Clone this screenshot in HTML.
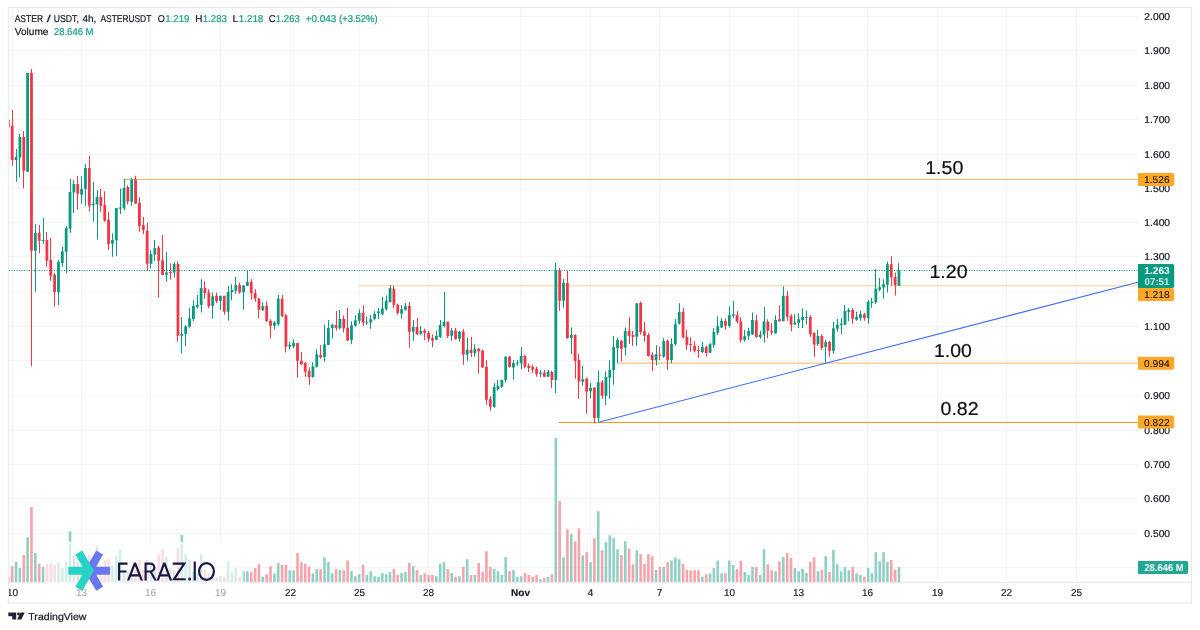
<!DOCTYPE html><html><head><meta charset="utf-8"><title>ASTER / USDT</title>
<style>html,body{margin:0;padding:0;background:#fff;}body{width:1200px;height:630px;overflow:hidden;font-family:"Liberation Sans",sans-serif;}svg{display:block;filter:contrast(1);}text{font-family:"Liberation Sans",sans-serif;text-rendering:geometricPrecision;}</style></head><body>
<svg width="1200" height="630" viewBox="0 0 1200 630">
<rect width="1200" height="630" fill="#fff"/>
<defs><clipPath id="cp"><rect x="9.1" y="8" width="1128.9" height="574"/></clipPath><clipPath id="cp2"><rect x="9" y="582" width="1182" height="21"/></clipPath></defs>
<g stroke="#2a2e39" stroke-opacity="0.055" stroke-width="1">
<line x1="8.8" x2="1138" y1="16.50" y2="16.50"/>
<line x1="8.8" x2="1138" y1="50.50" y2="50.50"/>
<line x1="8.8" x2="1138" y1="85.50" y2="85.50"/>
<line x1="8.8" x2="1138" y1="119.50" y2="119.50"/>
<line x1="8.8" x2="1138" y1="154.50" y2="154.50"/>
<line x1="8.8" x2="1138" y1="188.50" y2="188.50"/>
<line x1="8.8" x2="1138" y1="222.50" y2="222.50"/>
<line x1="8.8" x2="1138" y1="256.50" y2="256.50"/>
<line x1="8.8" x2="1138" y1="292.50" y2="292.50"/>
<line x1="8.8" x2="1138" y1="326.50" y2="326.50"/>
<line x1="8.8" x2="1138" y1="360.50" y2="360.50"/>
<line x1="8.8" x2="1138" y1="395.50" y2="395.50"/>
<line x1="8.8" x2="1138" y1="430.50" y2="430.50"/>
<line x1="8.8" x2="1138" y1="464.50" y2="464.50"/>
<line x1="8.8" x2="1138" y1="498.50" y2="498.50"/>
<line x1="8.8" x2="1138" y1="533.50" y2="533.50"/>
<line x1="8.8" x2="1138" y1="567.50" y2="567.50"/>
<line x1="12.50" x2="12.50" y1="8" y2="582"/>
<line x1="81.50" x2="81.50" y1="8" y2="582"/>
<line x1="150.50" x2="150.50" y1="8" y2="582"/>
<line x1="220.50" x2="220.50" y1="8" y2="582"/>
<line x1="290.50" x2="290.50" y1="8" y2="582"/>
<line x1="359.50" x2="359.50" y1="8" y2="582"/>
<line x1="428.50" x2="428.50" y1="8" y2="582"/>
<line x1="520.50" x2="520.50" y1="8" y2="582"/>
<line x1="590.50" x2="590.50" y1="8" y2="582"/>
<line x1="659.50" x2="659.50" y1="8" y2="582"/>
<line x1="729.50" x2="729.50" y1="8" y2="582"/>
<line x1="798.50" x2="798.50" y1="8" y2="582"/>
<line x1="867.50" x2="867.50" y1="8" y2="582"/>
<line x1="937.50" x2="937.50" y1="8" y2="582"/>
<line x1="1006.50" x2="1006.50" y1="8" y2="582"/>
<line x1="1076.50" x2="1076.50" y1="8" y2="582"/>
</g>
<g clip-path="url(#cp)">
<rect x="7.04" y="576.3" width="2.6" height="5.7" fill="#f8a3aa"/>
<rect x="10.90" y="566.2" width="2.6" height="15.8" fill="#f8a3aa"/>
<rect x="14.76" y="562.0" width="2.6" height="20.0" fill="#8fd0c6"/>
<rect x="18.61" y="568.0" width="2.6" height="14.0" fill="#8fd0c6"/>
<rect x="22.47" y="555.0" width="2.6" height="27.0" fill="#f8a3aa"/>
<rect x="26.32" y="537.2" width="2.6" height="44.8" fill="#8fd0c6"/>
<rect x="30.18" y="507.0" width="2.6" height="75.0" fill="#f8a3aa"/>
<rect x="34.03" y="553.0" width="2.6" height="29.0" fill="#8fd0c6"/>
<rect x="37.89" y="563.8" width="2.6" height="18.2" fill="#f8a3aa"/>
<rect x="41.74" y="566.7" width="2.6" height="15.3" fill="#8fd0c6"/>
<rect x="45.60" y="564.0" width="2.6" height="18.0" fill="#f8a3aa"/>
<rect x="49.45" y="563.1" width="2.6" height="18.9" fill="#f8a3aa"/>
<rect x="53.31" y="565.0" width="2.6" height="17.0" fill="#f8a3aa"/>
<rect x="57.17" y="562.1" width="2.6" height="19.9" fill="#8fd0c6"/>
<rect x="61.02" y="568.0" width="2.6" height="14.0" fill="#8fd0c6"/>
<rect x="64.88" y="561.2" width="2.6" height="20.8" fill="#8fd0c6"/>
<rect x="68.73" y="531.3" width="2.6" height="50.7" fill="#8fd0c6"/>
<rect x="72.59" y="555.3" width="2.6" height="26.7" fill="#8fd0c6"/>
<rect x="76.44" y="562.0" width="2.6" height="20.0" fill="#f8a3aa"/>
<rect x="80.30" y="568.0" width="2.6" height="14.0" fill="#8fd0c6"/>
<rect x="84.15" y="560.0" width="2.6" height="22.0" fill="#8fd0c6"/>
<rect x="88.01" y="555.0" width="2.6" height="27.0" fill="#f8a3aa"/>
<rect x="91.87" y="563.0" width="2.6" height="19.0" fill="#8fd0c6"/>
<rect x="95.72" y="546.1" width="2.6" height="35.9" fill="#8fd0c6"/>
<rect x="99.58" y="566.0" width="2.6" height="16.0" fill="#f8a3aa"/>
<rect x="103.43" y="560.4" width="2.6" height="21.6" fill="#f8a3aa"/>
<rect x="107.29" y="559.1" width="2.6" height="22.9" fill="#f8a3aa"/>
<rect x="111.14" y="565.2" width="2.6" height="16.8" fill="#8fd0c6"/>
<rect x="115.00" y="556.9" width="2.6" height="25.1" fill="#8fd0c6"/>
<rect x="118.85" y="549.1" width="2.6" height="32.9" fill="#8fd0c6"/>
<rect x="122.71" y="569.8" width="2.6" height="12.2" fill="#8fd0c6"/>
<rect x="126.57" y="572.0" width="2.6" height="10.0" fill="#f8a3aa"/>
<rect x="130.42" y="569.3" width="2.6" height="12.7" fill="#8fd0c6"/>
<rect x="134.28" y="569.8" width="2.6" height="12.2" fill="#f8a3aa"/>
<rect x="138.13" y="560.2" width="2.6" height="21.8" fill="#f8a3aa"/>
<rect x="141.99" y="569.7" width="2.6" height="12.3" fill="#f8a3aa"/>
<rect x="145.84" y="559.8" width="2.6" height="22.2" fill="#f8a3aa"/>
<rect x="149.70" y="565.0" width="2.6" height="17.0" fill="#8fd0c6"/>
<rect x="153.55" y="568.0" width="2.6" height="14.0" fill="#8fd0c6"/>
<rect x="157.41" y="554.9" width="2.6" height="27.1" fill="#f8a3aa"/>
<rect x="161.26" y="549.2" width="2.6" height="32.8" fill="#f8a3aa"/>
<rect x="165.12" y="557.0" width="2.6" height="25.0" fill="#8fd0c6"/>
<rect x="168.98" y="568.0" width="2.6" height="14.0" fill="#f8a3aa"/>
<rect x="172.83" y="570.0" width="2.6" height="12.0" fill="#8fd0c6"/>
<rect x="176.69" y="547.8" width="2.6" height="34.2" fill="#f8a3aa"/>
<rect x="180.54" y="535.0" width="2.6" height="47.0" fill="#8fd0c6"/>
<rect x="184.40" y="554.2" width="2.6" height="27.8" fill="#8fd0c6"/>
<rect x="188.25" y="560.0" width="2.6" height="22.0" fill="#8fd0c6"/>
<rect x="192.11" y="572.0" width="2.6" height="10.0" fill="#8fd0c6"/>
<rect x="195.96" y="573.0" width="2.6" height="9.0" fill="#8fd0c6"/>
<rect x="199.82" y="554.2" width="2.6" height="27.8" fill="#8fd0c6"/>
<rect x="203.67" y="569.2" width="2.6" height="12.8" fill="#f8a3aa"/>
<rect x="207.53" y="573.0" width="2.6" height="9.0" fill="#f8a3aa"/>
<rect x="211.39" y="573.3" width="2.6" height="8.7" fill="#8fd0c6"/>
<rect x="215.24" y="577.0" width="2.6" height="5.0" fill="#f8a3aa"/>
<rect x="219.10" y="576.2" width="2.6" height="5.8" fill="#8fd0c6"/>
<rect x="222.95" y="576.7" width="2.6" height="5.3" fill="#f8a3aa"/>
<rect x="226.81" y="561.2" width="2.6" height="20.8" fill="#8fd0c6"/>
<rect x="230.66" y="572.0" width="2.6" height="10.0" fill="#8fd0c6"/>
<rect x="234.52" y="567.2" width="2.6" height="14.8" fill="#8fd0c6"/>
<rect x="238.37" y="576.7" width="2.6" height="5.3" fill="#f8a3aa"/>
<rect x="242.23" y="571.2" width="2.6" height="10.8" fill="#8fd0c6"/>
<rect x="246.09" y="571.2" width="2.6" height="10.8" fill="#8fd0c6"/>
<rect x="249.94" y="572.0" width="2.6" height="10.0" fill="#f8a3aa"/>
<rect x="253.80" y="568.0" width="2.6" height="14.0" fill="#f8a3aa"/>
<rect x="257.65" y="564.2" width="2.6" height="17.8" fill="#f8a3aa"/>
<rect x="261.51" y="576.7" width="2.6" height="5.3" fill="#8fd0c6"/>
<rect x="265.36" y="574.2" width="2.6" height="7.8" fill="#f8a3aa"/>
<rect x="269.22" y="566.2" width="2.6" height="15.8" fill="#f8a3aa"/>
<rect x="273.07" y="573.3" width="2.6" height="8.7" fill="#8fd0c6"/>
<rect x="276.93" y="563.0" width="2.6" height="19.0" fill="#8fd0c6"/>
<rect x="280.78" y="565.0" width="2.6" height="17.0" fill="#f8a3aa"/>
<rect x="284.64" y="565.0" width="2.6" height="17.0" fill="#f8a3aa"/>
<rect x="288.50" y="570.3" width="2.6" height="11.7" fill="#8fd0c6"/>
<rect x="292.35" y="570.3" width="2.6" height="11.7" fill="#8fd0c6"/>
<rect x="296.21" y="553.0" width="2.6" height="29.0" fill="#f8a3aa"/>
<rect x="300.06" y="562.2" width="2.6" height="19.8" fill="#f8a3aa"/>
<rect x="303.92" y="563.7" width="2.6" height="18.3" fill="#f8a3aa"/>
<rect x="307.77" y="567.0" width="2.6" height="15.0" fill="#f8a3aa"/>
<rect x="311.63" y="573.3" width="2.6" height="8.7" fill="#8fd0c6"/>
<rect x="315.48" y="569.2" width="2.6" height="12.8" fill="#8fd0c6"/>
<rect x="319.34" y="569.2" width="2.6" height="12.8" fill="#f8a3aa"/>
<rect x="323.20" y="557.2" width="2.6" height="24.8" fill="#8fd0c6"/>
<rect x="327.05" y="562.0" width="2.6" height="20.0" fill="#8fd0c6"/>
<rect x="330.91" y="573.3" width="2.6" height="8.7" fill="#8fd0c6"/>
<rect x="334.76" y="569.2" width="2.6" height="12.8" fill="#f8a3aa"/>
<rect x="338.62" y="570.0" width="2.6" height="12.0" fill="#8fd0c6"/>
<rect x="342.47" y="570.3" width="2.6" height="11.7" fill="#f8a3aa"/>
<rect x="346.33" y="560.5" width="2.6" height="21.5" fill="#f8a3aa"/>
<rect x="350.18" y="571.2" width="2.6" height="10.8" fill="#8fd0c6"/>
<rect x="354.04" y="576.2" width="2.6" height="5.8" fill="#8fd0c6"/>
<rect x="357.89" y="574.2" width="2.6" height="7.8" fill="#8fd0c6"/>
<rect x="361.75" y="565.0" width="2.6" height="17.0" fill="#f8a3aa"/>
<rect x="365.61" y="575.0" width="2.6" height="7.0" fill="#8fd0c6"/>
<rect x="369.46" y="571.2" width="2.6" height="10.8" fill="#8fd0c6"/>
<rect x="373.32" y="576.2" width="2.6" height="5.8" fill="#8fd0c6"/>
<rect x="377.17" y="576.7" width="2.6" height="5.3" fill="#8fd0c6"/>
<rect x="381.03" y="573.0" width="2.6" height="9.0" fill="#8fd0c6"/>
<rect x="384.88" y="574.2" width="2.6" height="7.8" fill="#8fd0c6"/>
<rect x="388.74" y="572.0" width="2.6" height="10.0" fill="#8fd0c6"/>
<rect x="392.59" y="568.8" width="2.6" height="13.2" fill="#f8a3aa"/>
<rect x="396.45" y="575.0" width="2.6" height="7.0" fill="#f8a3aa"/>
<rect x="400.31" y="573.0" width="2.6" height="9.0" fill="#8fd0c6"/>
<rect x="404.16" y="572.0" width="2.6" height="10.0" fill="#8fd0c6"/>
<rect x="408.02" y="563.0" width="2.6" height="19.0" fill="#f8a3aa"/>
<rect x="411.87" y="566.2" width="2.6" height="15.8" fill="#8fd0c6"/>
<rect x="415.73" y="570.0" width="2.6" height="12.0" fill="#f8a3aa"/>
<rect x="419.58" y="575.0" width="2.6" height="7.0" fill="#8fd0c6"/>
<rect x="423.44" y="573.3" width="2.6" height="8.7" fill="#f8a3aa"/>
<rect x="427.29" y="575.0" width="2.6" height="7.0" fill="#f8a3aa"/>
<rect x="431.15" y="575.0" width="2.6" height="7.0" fill="#f8a3aa"/>
<rect x="435.00" y="576.2" width="2.6" height="5.8" fill="#8fd0c6"/>
<rect x="438.86" y="563.7" width="2.6" height="18.3" fill="#8fd0c6"/>
<rect x="442.72" y="562.2" width="2.6" height="19.8" fill="#8fd0c6"/>
<rect x="446.57" y="569.2" width="2.6" height="12.8" fill="#f8a3aa"/>
<rect x="450.43" y="573.0" width="2.6" height="9.0" fill="#8fd0c6"/>
<rect x="454.28" y="576.7" width="2.6" height="5.3" fill="#f8a3aa"/>
<rect x="458.14" y="576.2" width="2.6" height="5.8" fill="#8fd0c6"/>
<rect x="461.99" y="567.0" width="2.6" height="15.0" fill="#f8a3aa"/>
<rect x="465.85" y="559.2" width="2.6" height="22.8" fill="#8fd0c6"/>
<rect x="469.70" y="575.0" width="2.6" height="7.0" fill="#f8a3aa"/>
<rect x="473.56" y="575.0" width="2.6" height="7.0" fill="#8fd0c6"/>
<rect x="477.42" y="563.0" width="2.6" height="19.0" fill="#f8a3aa"/>
<rect x="481.27" y="572.0" width="2.6" height="10.0" fill="#f8a3aa"/>
<rect x="485.13" y="551.2" width="2.6" height="30.8" fill="#f8a3aa"/>
<rect x="488.98" y="567.0" width="2.6" height="15.0" fill="#f8a3aa"/>
<rect x="492.84" y="568.8" width="2.6" height="13.2" fill="#8fd0c6"/>
<rect x="496.69" y="571.2" width="2.6" height="10.8" fill="#8fd0c6"/>
<rect x="500.55" y="575.0" width="2.6" height="7.0" fill="#8fd0c6"/>
<rect x="504.40" y="557.2" width="2.6" height="24.8" fill="#8fd0c6"/>
<rect x="508.26" y="571.2" width="2.6" height="10.8" fill="#f8a3aa"/>
<rect x="512.12" y="570.0" width="2.6" height="12.0" fill="#8fd0c6"/>
<rect x="515.97" y="577.0" width="2.6" height="5.0" fill="#8fd0c6"/>
<rect x="519.83" y="576.2" width="2.6" height="5.8" fill="#8fd0c6"/>
<rect x="523.68" y="573.0" width="2.6" height="9.0" fill="#f8a3aa"/>
<rect x="527.54" y="575.0" width="2.6" height="7.0" fill="#f8a3aa"/>
<rect x="531.39" y="576.7" width="2.6" height="5.3" fill="#f8a3aa"/>
<rect x="535.25" y="575.0" width="2.6" height="7.0" fill="#f8a3aa"/>
<rect x="539.10" y="579.2" width="2.6" height="2.8" fill="#8fd0c6"/>
<rect x="542.96" y="578.0" width="2.6" height="4.0" fill="#f8a3aa"/>
<rect x="546.81" y="576.7" width="2.6" height="5.3" fill="#8fd0c6"/>
<rect x="550.67" y="574.2" width="2.6" height="7.8" fill="#f8a3aa"/>
<rect x="554.53" y="438.0" width="2.6" height="144.0" fill="#8fd0c6"/>
<rect x="558.38" y="501.0" width="2.6" height="81.0" fill="#f8a3aa"/>
<rect x="562.24" y="557.2" width="2.6" height="24.8" fill="#8fd0c6"/>
<rect x="566.09" y="529.2" width="2.6" height="52.8" fill="#f8a3aa"/>
<rect x="569.95" y="534.0" width="2.6" height="48.0" fill="#8fd0c6"/>
<rect x="573.80" y="541.3" width="2.6" height="40.7" fill="#f8a3aa"/>
<rect x="577.66" y="528.3" width="2.6" height="53.7" fill="#f8a3aa"/>
<rect x="581.51" y="555.3" width="2.6" height="26.7" fill="#8fd0c6"/>
<rect x="585.37" y="552.2" width="2.6" height="29.8" fill="#f8a3aa"/>
<rect x="589.23" y="562.2" width="2.6" height="19.8" fill="#8fd0c6"/>
<rect x="593.08" y="538.3" width="2.6" height="43.7" fill="#f8a3aa"/>
<rect x="596.94" y="511.2" width="2.6" height="70.8" fill="#8fd0c6"/>
<rect x="600.79" y="550.3" width="2.6" height="31.7" fill="#f8a3aa"/>
<rect x="604.65" y="542.2" width="2.6" height="39.8" fill="#8fd0c6"/>
<rect x="608.50" y="535.3" width="2.6" height="46.7" fill="#8fd0c6"/>
<rect x="612.36" y="538.0" width="2.6" height="44.0" fill="#8fd0c6"/>
<rect x="616.21" y="549.2" width="2.6" height="32.8" fill="#8fd0c6"/>
<rect x="620.07" y="555.0" width="2.6" height="27.0" fill="#f8a3aa"/>
<rect x="623.92" y="541.3" width="2.6" height="40.7" fill="#8fd0c6"/>
<rect x="627.78" y="548.3" width="2.6" height="33.7" fill="#f8a3aa"/>
<rect x="631.64" y="564.2" width="2.6" height="17.8" fill="#f8a3aa"/>
<rect x="635.49" y="550.3" width="2.6" height="31.7" fill="#8fd0c6"/>
<rect x="639.35" y="554.2" width="2.6" height="27.8" fill="#f8a3aa"/>
<rect x="643.20" y="563.7" width="2.6" height="18.3" fill="#f8a3aa"/>
<rect x="647.06" y="554.2" width="2.6" height="27.8" fill="#f8a3aa"/>
<rect x="650.91" y="556.3" width="2.6" height="25.7" fill="#f8a3aa"/>
<rect x="654.77" y="570.0" width="2.6" height="12.0" fill="#8fd0c6"/>
<rect x="658.62" y="567.0" width="2.6" height="15.0" fill="#f8a3aa"/>
<rect x="662.48" y="567.0" width="2.6" height="15.0" fill="#8fd0c6"/>
<rect x="666.34" y="562.2" width="2.6" height="19.8" fill="#f8a3aa"/>
<rect x="670.19" y="560.5" width="2.6" height="21.5" fill="#8fd0c6"/>
<rect x="674.05" y="557.5" width="2.6" height="24.5" fill="#8fd0c6"/>
<rect x="677.90" y="559.2" width="2.6" height="22.8" fill="#8fd0c6"/>
<rect x="681.76" y="563.7" width="2.6" height="18.3" fill="#f8a3aa"/>
<rect x="685.61" y="570.0" width="2.6" height="12.0" fill="#f8a3aa"/>
<rect x="689.47" y="570.3" width="2.6" height="11.7" fill="#f8a3aa"/>
<rect x="693.32" y="570.0" width="2.6" height="12.0" fill="#f8a3aa"/>
<rect x="697.18" y="570.3" width="2.6" height="11.7" fill="#f8a3aa"/>
<rect x="701.03" y="576.7" width="2.6" height="5.3" fill="#8fd0c6"/>
<rect x="704.89" y="574.2" width="2.6" height="7.8" fill="#f8a3aa"/>
<rect x="708.75" y="573.3" width="2.6" height="8.7" fill="#8fd0c6"/>
<rect x="712.60" y="568.0" width="2.6" height="14.0" fill="#8fd0c6"/>
<rect x="716.46" y="560.5" width="2.6" height="21.5" fill="#8fd0c6"/>
<rect x="720.31" y="573.3" width="2.6" height="8.7" fill="#8fd0c6"/>
<rect x="724.17" y="573.3" width="2.6" height="8.7" fill="#f8a3aa"/>
<rect x="728.02" y="560.5" width="2.6" height="21.5" fill="#8fd0c6"/>
<rect x="731.88" y="565.0" width="2.6" height="17.0" fill="#8fd0c6"/>
<rect x="735.73" y="569.2" width="2.6" height="12.8" fill="#f8a3aa"/>
<rect x="739.59" y="560.5" width="2.6" height="21.5" fill="#f8a3aa"/>
<rect x="743.45" y="572.0" width="2.6" height="10.0" fill="#8fd0c6"/>
<rect x="747.30" y="575.0" width="2.6" height="7.0" fill="#8fd0c6"/>
<rect x="751.16" y="567.0" width="2.6" height="15.0" fill="#8fd0c6"/>
<rect x="755.01" y="567.0" width="2.6" height="15.0" fill="#f8a3aa"/>
<rect x="758.87" y="575.0" width="2.6" height="7.0" fill="#8fd0c6"/>
<rect x="762.72" y="549.2" width="2.6" height="32.8" fill="#8fd0c6"/>
<rect x="766.58" y="564.2" width="2.6" height="17.8" fill="#f8a3aa"/>
<rect x="770.43" y="570.3" width="2.6" height="11.7" fill="#f8a3aa"/>
<rect x="774.29" y="571.2" width="2.6" height="10.8" fill="#8fd0c6"/>
<rect x="778.14" y="561.2" width="2.6" height="20.8" fill="#f8a3aa"/>
<rect x="782.00" y="557.2" width="2.6" height="24.8" fill="#8fd0c6"/>
<rect x="785.86" y="553.0" width="2.6" height="29.0" fill="#f8a3aa"/>
<rect x="789.71" y="558.0" width="2.6" height="24.0" fill="#f8a3aa"/>
<rect x="793.57" y="568.0" width="2.6" height="14.0" fill="#8fd0c6"/>
<rect x="797.42" y="571.2" width="2.6" height="10.8" fill="#8fd0c6"/>
<rect x="801.28" y="568.8" width="2.6" height="13.2" fill="#8fd0c6"/>
<rect x="805.13" y="573.0" width="2.6" height="9.0" fill="#8fd0c6"/>
<rect x="808.99" y="562.0" width="2.6" height="20.0" fill="#f8a3aa"/>
<rect x="812.84" y="557.2" width="2.6" height="24.8" fill="#f8a3aa"/>
<rect x="816.70" y="571.2" width="2.6" height="10.8" fill="#8fd0c6"/>
<rect x="820.56" y="570.0" width="2.6" height="12.0" fill="#f8a3aa"/>
<rect x="824.41" y="556.2" width="2.6" height="25.8" fill="#8fd0c6"/>
<rect x="828.27" y="572.0" width="2.6" height="10.0" fill="#f8a3aa"/>
<rect x="832.12" y="550.0" width="2.6" height="32.0" fill="#8fd0c6"/>
<rect x="835.98" y="564.2" width="2.6" height="17.8" fill="#8fd0c6"/>
<rect x="839.83" y="571.2" width="2.6" height="10.8" fill="#8fd0c6"/>
<rect x="843.69" y="567.0" width="2.6" height="15.0" fill="#8fd0c6"/>
<rect x="847.54" y="570.3" width="2.6" height="11.7" fill="#8fd0c6"/>
<rect x="851.40" y="567.0" width="2.6" height="15.0" fill="#f8a3aa"/>
<rect x="855.25" y="573.3" width="2.6" height="8.7" fill="#8fd0c6"/>
<rect x="859.11" y="575.0" width="2.6" height="7.0" fill="#8fd0c6"/>
<rect x="862.97" y="576.7" width="2.6" height="5.3" fill="#f8a3aa"/>
<rect x="866.82" y="568.0" width="2.6" height="14.0" fill="#8fd0c6"/>
<rect x="870.68" y="573.3" width="2.6" height="8.7" fill="#8fd0c6"/>
<rect x="874.53" y="552.2" width="2.6" height="29.8" fill="#8fd0c6"/>
<rect x="878.39" y="561.2" width="2.6" height="20.8" fill="#8fd0c6"/>
<rect x="882.24" y="552.2" width="2.6" height="29.8" fill="#8fd0c6"/>
<rect x="886.10" y="562.0" width="2.6" height="20.0" fill="#8fd0c6"/>
<rect x="889.95" y="560.0" width="2.6" height="22.0" fill="#f8a3aa"/>
<rect x="893.81" y="570.0" width="2.6" height="12.0" fill="#f8a3aa"/>
<rect x="897.67" y="567.0" width="2.6" height="15.0" fill="#8fd0c6"/>
</g>
<line x1="123.3" x2="1138" y1="179.5" y2="179.5" stroke="#fbb358" stroke-width="1.1"/>
<line x1="358.7" x2="1138" y1="285.7" y2="285.7" stroke="#fde0b6" stroke-width="1.5"/>
<line x1="617.2" x2="1138" y1="363.2" y2="363.2" stroke="#fcc27c" stroke-width="1.2"/>
<line x1="558.8" x2="1138" y1="422.45" y2="422.45" stroke="#f7961c" stroke-width="1"/>
<line x1="598.5" y1="422.2" x2="1138" y2="282.2" stroke="#3f6df6" stroke-width="1.05"/>
<g clip-path="url(#cp)">
<rect x="8" y="120.0" width="1" height="7.0" fill="#f23645"/>
<rect x="6.94" y="120.0" width="2.8" height="7.0" fill="#f23645"/>
<rect x="12" y="110.0" width="1" height="55.8" fill="#f23645"/>
<rect x="10.80" y="125.8" width="2.8" height="34.2" fill="#f23645"/>
<rect x="16" y="149.0" width="1" height="32.7" fill="#089981"/>
<rect x="14.66" y="157.0" width="2.8" height="3.0" fill="#089981"/>
<rect x="19" y="134.0" width="1" height="43.5" fill="#089981"/>
<rect x="18.51" y="137.0" width="2.8" height="20.5" fill="#089981"/>
<rect x="23" y="131.0" width="1" height="57.3" fill="#f23645"/>
<rect x="22.37" y="137.0" width="2.8" height="33.8" fill="#f23645"/>
<rect x="27" y="73.0" width="1" height="98.7" fill="#089981"/>
<rect x="26.22" y="73.0" width="2.8" height="98.7" fill="#089981"/>
<rect x="31" y="69.0" width="1" height="297.3" fill="#f23645"/>
<rect x="30.08" y="73.0" width="2.8" height="177.8" fill="#f23645"/>
<rect x="35" y="224.0" width="1" height="67.7" fill="#089981"/>
<rect x="33.93" y="232.8" width="2.8" height="18.0" fill="#089981"/>
<rect x="39" y="225.0" width="1" height="28.3" fill="#f23645"/>
<rect x="37.79" y="232.8" width="2.8" height="8.0" fill="#f23645"/>
<rect x="43" y="218.0" width="1" height="26.0" fill="#089981"/>
<rect x="41.64" y="239.9" width="2.8" height="1.0" fill="#089981"/>
<rect x="46" y="232.0" width="1" height="34.7" fill="#f23645"/>
<rect x="45.50" y="240.0" width="2.8" height="20.8" fill="#f23645"/>
<rect x="50" y="238.0" width="1" height="42.8" fill="#f23645"/>
<rect x="49.35" y="260.0" width="2.8" height="15.8" fill="#f23645"/>
<rect x="54" y="273.0" width="1" height="33.7" fill="#f23645"/>
<rect x="53.21" y="275.0" width="2.8" height="17.0" fill="#f23645"/>
<rect x="58" y="259.7" width="1" height="45.3" fill="#089981"/>
<rect x="57.07" y="262.0" width="2.8" height="30.0" fill="#089981"/>
<rect x="62" y="247.0" width="1" height="19.7" fill="#089981"/>
<rect x="60.92" y="251.3" width="2.8" height="11.7" fill="#089981"/>
<rect x="66" y="226.0" width="1" height="47.3" fill="#089981"/>
<rect x="64.78" y="228.0" width="2.8" height="23.7" fill="#089981"/>
<rect x="70" y="179.0" width="1" height="53.8" fill="#089981"/>
<rect x="68.63" y="192.0" width="2.8" height="36.7" fill="#089981"/>
<rect x="73" y="180.0" width="1" height="33.0" fill="#089981"/>
<rect x="72.49" y="184.0" width="2.8" height="8.5" fill="#089981"/>
<rect x="77" y="175.8" width="1" height="33.9" fill="#f23645"/>
<rect x="76.34" y="184.0" width="2.8" height="9.7" fill="#f23645"/>
<rect x="81" y="176.3" width="1" height="27.4" fill="#089981"/>
<rect x="80.20" y="189.0" width="2.8" height="5.7" fill="#089981"/>
<rect x="85" y="164.0" width="1" height="41.8" fill="#089981"/>
<rect x="84.05" y="168.0" width="2.8" height="20.7" fill="#089981"/>
<rect x="89" y="155.8" width="1" height="55.9" fill="#f23645"/>
<rect x="87.91" y="168.0" width="2.8" height="37.8" fill="#f23645"/>
<rect x="93" y="182.0" width="1" height="39.7" fill="#089981"/>
<rect x="91.77" y="203.7" width="2.8" height="1.3" fill="#089981"/>
<rect x="97" y="190.0" width="1" height="49.5" fill="#089981"/>
<rect x="95.62" y="197.0" width="2.8" height="7.5" fill="#089981"/>
<rect x="100" y="189.0" width="1" height="22.7" fill="#f23645"/>
<rect x="99.48" y="197.0" width="2.8" height="8.8" fill="#f23645"/>
<rect x="104" y="191.3" width="1" height="30.4" fill="#f23645"/>
<rect x="103.33" y="205.0" width="2.8" height="15.8" fill="#f23645"/>
<rect x="108" y="211.7" width="1" height="38.0" fill="#f23645"/>
<rect x="107.19" y="220.0" width="2.8" height="24.0" fill="#f23645"/>
<rect x="112" y="233.3" width="1" height="23.4" fill="#089981"/>
<rect x="111.04" y="240.0" width="2.8" height="3.7" fill="#089981"/>
<rect x="116" y="208.0" width="1" height="47.8" fill="#089981"/>
<rect x="114.90" y="208.0" width="2.8" height="32.3" fill="#089981"/>
<rect x="120" y="188.7" width="1" height="25.3" fill="#089981"/>
<rect x="118.75" y="207.5" width="2.8" height="1.2" fill="#089981"/>
<rect x="124" y="179.0" width="1" height="31.3" fill="#089981"/>
<rect x="122.61" y="188.0" width="2.8" height="20.3" fill="#089981"/>
<rect x="127" y="185.3" width="1" height="19.2" fill="#f23645"/>
<rect x="126.47" y="187.0" width="2.8" height="14.7" fill="#f23645"/>
<rect x="131" y="178.0" width="1" height="27.8" fill="#089981"/>
<rect x="130.32" y="179.7" width="2.8" height="22.0" fill="#089981"/>
<rect x="135" y="175.8" width="1" height="27.9" fill="#f23645"/>
<rect x="134.18" y="179.7" width="2.8" height="24.0" fill="#f23645"/>
<rect x="139" y="197.0" width="1" height="34.7" fill="#f23645"/>
<rect x="138.03" y="203.0" width="2.8" height="22.8" fill="#f23645"/>
<rect x="143" y="217.0" width="1" height="17.0" fill="#f23645"/>
<rect x="141.89" y="225.0" width="2.8" height="5.0" fill="#f23645"/>
<rect x="147" y="222.8" width="1" height="48.0" fill="#f23645"/>
<rect x="145.74" y="230.8" width="2.8" height="33.0" fill="#f23645"/>
<rect x="150" y="250.3" width="1" height="18.0" fill="#089981"/>
<rect x="149.60" y="254.0" width="2.8" height="9.8" fill="#089981"/>
<rect x="154" y="240.0" width="1" height="20.8" fill="#089981"/>
<rect x="153.45" y="248.0" width="2.8" height="6.7" fill="#089981"/>
<rect x="158" y="245.8" width="1" height="51.7" fill="#f23645"/>
<rect x="157.31" y="247.5" width="2.8" height="13.3" fill="#f23645"/>
<rect x="162" y="235.0" width="1" height="40.0" fill="#f23645"/>
<rect x="161.16" y="260.3" width="2.8" height="14.7" fill="#f23645"/>
<rect x="166" y="252.0" width="1" height="29.7" fill="#089981"/>
<rect x="165.02" y="272.5" width="2.8" height="2.2" fill="#089981"/>
<rect x="170" y="263.3" width="1" height="16.4" fill="#f23645"/>
<rect x="168.88" y="272.0" width="2.8" height="1.0" fill="#f23645"/>
<rect x="174" y="262.0" width="1" height="15.5" fill="#089981"/>
<rect x="172.73" y="264.0" width="2.8" height="8.5" fill="#089981"/>
<rect x="177" y="261.3" width="1" height="80.4" fill="#f23645"/>
<rect x="176.59" y="264.0" width="2.8" height="71.8" fill="#f23645"/>
<rect x="181" y="317.0" width="1" height="36.7" fill="#089981"/>
<rect x="180.44" y="334.0" width="2.8" height="1.8" fill="#089981"/>
<rect x="185" y="325.3" width="1" height="20.5" fill="#089981"/>
<rect x="184.30" y="326.3" width="2.8" height="7.7" fill="#089981"/>
<rect x="189" y="308.0" width="1" height="19.8" fill="#089981"/>
<rect x="188.15" y="318.3" width="2.8" height="8.4" fill="#089981"/>
<rect x="193" y="300.3" width="1" height="20.7" fill="#089981"/>
<rect x="192.01" y="306.0" width="2.8" height="13.0" fill="#089981"/>
<rect x="197" y="295.0" width="1" height="13.5" fill="#089981"/>
<rect x="195.86" y="304.7" width="2.8" height="2.3" fill="#089981"/>
<rect x="201" y="279.2" width="1" height="33.3" fill="#089981"/>
<rect x="199.72" y="288.0" width="2.8" height="17.0" fill="#089981"/>
<rect x="204" y="281.3" width="1" height="17.4" fill="#f23645"/>
<rect x="203.57" y="288.0" width="2.8" height="5.0" fill="#f23645"/>
<rect x="208" y="289.2" width="1" height="19.1" fill="#f23645"/>
<rect x="207.43" y="292.5" width="2.8" height="13.8" fill="#f23645"/>
<rect x="212" y="292.5" width="1" height="26.2" fill="#089981"/>
<rect x="211.29" y="296.3" width="2.8" height="9.5" fill="#089981"/>
<rect x="216" y="292.5" width="1" height="10.5" fill="#f23645"/>
<rect x="215.14" y="295.8" width="2.8" height="5.5" fill="#f23645"/>
<rect x="220" y="295.8" width="1" height="14.2" fill="#089981"/>
<rect x="219.00" y="295.8" width="2.8" height="5.0" fill="#089981"/>
<rect x="224" y="295.8" width="1" height="18.9" fill="#f23645"/>
<rect x="222.85" y="295.8" width="2.8" height="15.9" fill="#f23645"/>
<rect x="228" y="285.8" width="1" height="34.7" fill="#089981"/>
<rect x="226.71" y="292.0" width="2.8" height="19.7" fill="#089981"/>
<rect x="231" y="284.2" width="1" height="16.1" fill="#089981"/>
<rect x="230.56" y="290.0" width="2.8" height="2.0" fill="#089981"/>
<rect x="235" y="276.7" width="1" height="17.0" fill="#089981"/>
<rect x="234.42" y="285.0" width="2.8" height="5.8" fill="#089981"/>
<rect x="239" y="282.5" width="1" height="11.2" fill="#f23645"/>
<rect x="238.27" y="285.0" width="2.8" height="7.5" fill="#f23645"/>
<rect x="243" y="285.0" width="1" height="24.7" fill="#089981"/>
<rect x="242.13" y="285.5" width="2.8" height="6.5" fill="#089981"/>
<rect x="247" y="270.5" width="1" height="15.3" fill="#089981"/>
<rect x="245.99" y="282.0" width="2.8" height="3.8" fill="#089981"/>
<rect x="251" y="279.2" width="1" height="20.5" fill="#f23645"/>
<rect x="249.84" y="281.7" width="2.8" height="11.3" fill="#f23645"/>
<rect x="255" y="289.2" width="1" height="12.5" fill="#f23645"/>
<rect x="253.70" y="293.0" width="2.8" height="5.7" fill="#f23645"/>
<rect x="258" y="298.0" width="1" height="20.3" fill="#f23645"/>
<rect x="257.55" y="298.7" width="2.8" height="11.0" fill="#f23645"/>
<rect x="262" y="302.5" width="1" height="8.3" fill="#089981"/>
<rect x="261.41" y="306.2" width="2.8" height="4.1" fill="#089981"/>
<rect x="266" y="301.2" width="1" height="20.5" fill="#f23645"/>
<rect x="265.26" y="305.8" width="2.8" height="15.5" fill="#f23645"/>
<rect x="270" y="319.2" width="1" height="19.1" fill="#f23645"/>
<rect x="269.12" y="320.8" width="2.8" height="5.0" fill="#f23645"/>
<rect x="274" y="321.2" width="1" height="8.3" fill="#089981"/>
<rect x="272.97" y="322.5" width="2.8" height="3.3" fill="#089981"/>
<rect x="278" y="295.0" width="1" height="30.8" fill="#089981"/>
<rect x="276.83" y="298.7" width="2.8" height="25.5" fill="#089981"/>
<rect x="282" y="295.0" width="1" height="21.7" fill="#f23645"/>
<rect x="280.69" y="298.7" width="2.8" height="17.6" fill="#f23645"/>
<rect x="285" y="314.2" width="1" height="38.3" fill="#f23645"/>
<rect x="284.54" y="315.3" width="2.8" height="31.4" fill="#f23645"/>
<rect x="289" y="341.7" width="1" height="8.0" fill="#089981"/>
<rect x="288.40" y="345.0" width="2.8" height="1.7" fill="#089981"/>
<rect x="293" y="339.2" width="1" height="9.1" fill="#089981"/>
<rect x="292.25" y="343.0" width="2.8" height="3.3" fill="#089981"/>
<rect x="297" y="343.0" width="1" height="34.5" fill="#f23645"/>
<rect x="296.11" y="343.0" width="2.8" height="17.8" fill="#f23645"/>
<rect x="301" y="352.0" width="1" height="13.3" fill="#f23645"/>
<rect x="299.96" y="360.8" width="2.8" height="3.4" fill="#f23645"/>
<rect x="305" y="362.0" width="1" height="14.7" fill="#f23645"/>
<rect x="303.82" y="363.0" width="2.8" height="8.7" fill="#f23645"/>
<rect x="309" y="367.5" width="1" height="17.2" fill="#f23645"/>
<rect x="307.67" y="370.8" width="2.8" height="6.2" fill="#f23645"/>
<rect x="312" y="362.2" width="1" height="15.6" fill="#089981"/>
<rect x="311.53" y="366.3" width="2.8" height="10.7" fill="#089981"/>
<rect x="316" y="349.2" width="1" height="18.3" fill="#089981"/>
<rect x="315.38" y="354.2" width="2.8" height="12.5" fill="#089981"/>
<rect x="320" y="345.0" width="1" height="13.7" fill="#f23645"/>
<rect x="319.24" y="355.0" width="2.8" height="2.5" fill="#f23645"/>
<rect x="324" y="324.5" width="1" height="37.2" fill="#089981"/>
<rect x="323.10" y="344.4" width="2.8" height="12.6" fill="#089981"/>
<rect x="328" y="320.2" width="1" height="24.8" fill="#089981"/>
<rect x="326.95" y="328.0" width="2.8" height="16.8" fill="#089981"/>
<rect x="332" y="323.7" width="1" height="14.8" fill="#089981"/>
<rect x="330.81" y="324.8" width="2.8" height="3.2" fill="#089981"/>
<rect x="336" y="311.0" width="1" height="19.5" fill="#f23645"/>
<rect x="334.66" y="325.0" width="2.8" height="3.2" fill="#f23645"/>
<rect x="339" y="310.0" width="1" height="19.5" fill="#089981"/>
<rect x="338.52" y="319.0" width="2.8" height="9.3" fill="#089981"/>
<rect x="343" y="315.3" width="1" height="17.2" fill="#f23645"/>
<rect x="342.37" y="319.0" width="2.8" height="9.5" fill="#f23645"/>
<rect x="347" y="308.0" width="1" height="32.8" fill="#f23645"/>
<rect x="346.23" y="328.0" width="2.8" height="12.6" fill="#f23645"/>
<rect x="351" y="321.3" width="1" height="22.9" fill="#089981"/>
<rect x="350.08" y="325.3" width="2.8" height="14.7" fill="#089981"/>
<rect x="355" y="315.3" width="1" height="11.4" fill="#089981"/>
<rect x="353.94" y="320.3" width="2.8" height="5.5" fill="#089981"/>
<rect x="359" y="309.2" width="1" height="14.5" fill="#089981"/>
<rect x="357.80" y="312.8" width="2.8" height="8.0" fill="#089981"/>
<rect x="363" y="305.2" width="1" height="20.6" fill="#f23645"/>
<rect x="361.65" y="312.8" width="2.8" height="9.9" fill="#f23645"/>
<rect x="366" y="316.3" width="1" height="8.7" fill="#089981"/>
<rect x="365.51" y="321.7" width="2.8" height="1.1" fill="#089981"/>
<rect x="370" y="315.0" width="1" height="13.7" fill="#089981"/>
<rect x="369.36" y="319.2" width="2.8" height="3.3" fill="#089981"/>
<rect x="374" y="311.3" width="1" height="9.0" fill="#089981"/>
<rect x="373.22" y="314.0" width="2.8" height="4.8" fill="#089981"/>
<rect x="378" y="308.0" width="1" height="11.2" fill="#089981"/>
<rect x="377.07" y="311.5" width="2.8" height="1.8" fill="#089981"/>
<rect x="382" y="297.0" width="1" height="18.3" fill="#089981"/>
<rect x="380.93" y="308.5" width="2.8" height="5.7" fill="#089981"/>
<rect x="386" y="295.5" width="1" height="14.8" fill="#089981"/>
<rect x="384.78" y="301.0" width="2.8" height="8.2" fill="#089981"/>
<rect x="390" y="285.0" width="1" height="17.5" fill="#089981"/>
<rect x="388.64" y="288.2" width="2.8" height="13.8" fill="#089981"/>
<rect x="393" y="285.8" width="1" height="22.5" fill="#f23645"/>
<rect x="392.49" y="288.7" width="2.8" height="16.3" fill="#f23645"/>
<rect x="397" y="303.7" width="1" height="11.0" fill="#f23645"/>
<rect x="396.35" y="304.7" width="2.8" height="8.3" fill="#f23645"/>
<rect x="401" y="305.0" width="1" height="13.7" fill="#089981"/>
<rect x="400.21" y="309.2" width="2.8" height="4.5" fill="#089981"/>
<rect x="405" y="303.0" width="1" height="7.8" fill="#089981"/>
<rect x="404.06" y="306.2" width="2.8" height="3.5" fill="#089981"/>
<rect x="409" y="302.0" width="1" height="45.5" fill="#f23645"/>
<rect x="407.92" y="305.8" width="2.8" height="25.9" fill="#f23645"/>
<rect x="413" y="320.0" width="1" height="20.8" fill="#089981"/>
<rect x="411.77" y="327.0" width="2.8" height="4.7" fill="#089981"/>
<rect x="417" y="318.0" width="1" height="17.0" fill="#f23645"/>
<rect x="415.63" y="327.0" width="2.8" height="7.2" fill="#f23645"/>
<rect x="420" y="325.8" width="1" height="8.9" fill="#089981"/>
<rect x="419.48" y="330.8" width="2.8" height="3.0" fill="#089981"/>
<rect x="424" y="328.7" width="1" height="11.3" fill="#f23645"/>
<rect x="423.34" y="330.5" width="2.8" height="2.5" fill="#f23645"/>
<rect x="428" y="330.8" width="1" height="11.2" fill="#f23645"/>
<rect x="427.19" y="333.0" width="2.8" height="5.7" fill="#f23645"/>
<rect x="432" y="334.2" width="1" height="13.0" fill="#f23645"/>
<rect x="431.05" y="338.3" width="2.8" height="2.2" fill="#f23645"/>
<rect x="436" y="330.8" width="1" height="9.2" fill="#089981"/>
<rect x="434.91" y="335.8" width="2.8" height="3.9" fill="#089981"/>
<rect x="440" y="320.0" width="1" height="18.0" fill="#089981"/>
<rect x="438.76" y="325.0" width="2.8" height="12.0" fill="#089981"/>
<rect x="444" y="292.0" width="1" height="35.5" fill="#089981"/>
<rect x="442.62" y="321.7" width="2.8" height="4.3" fill="#089981"/>
<rect x="447" y="321.7" width="1" height="16.3" fill="#f23645"/>
<rect x="446.47" y="321.7" width="2.8" height="14.5" fill="#f23645"/>
<rect x="451" y="328.0" width="1" height="12.8" fill="#089981"/>
<rect x="450.33" y="330.5" width="2.8" height="5.3" fill="#089981"/>
<rect x="455" y="328.0" width="1" height="11.7" fill="#f23645"/>
<rect x="454.18" y="330.5" width="2.8" height="8.7" fill="#f23645"/>
<rect x="459" y="330.8" width="1" height="10.9" fill="#089981"/>
<rect x="458.04" y="331.7" width="2.8" height="7.0" fill="#089981"/>
<rect x="463" y="329.2" width="1" height="35.5" fill="#f23645"/>
<rect x="461.89" y="331.7" width="2.8" height="23.0" fill="#f23645"/>
<rect x="467" y="337.5" width="1" height="23.3" fill="#089981"/>
<rect x="465.75" y="349.7" width="2.8" height="5.0" fill="#089981"/>
<rect x="471" y="337.0" width="1" height="20.0" fill="#f23645"/>
<rect x="469.60" y="349.7" width="2.8" height="3.3" fill="#f23645"/>
<rect x="474" y="344.2" width="1" height="12.5" fill="#089981"/>
<rect x="473.46" y="348.8" width="2.8" height="4.5" fill="#089981"/>
<rect x="478" y="348.0" width="1" height="25.7" fill="#f23645"/>
<rect x="477.32" y="348.7" width="2.8" height="2.6" fill="#f23645"/>
<rect x="482" y="349.7" width="1" height="17.8" fill="#f23645"/>
<rect x="481.17" y="350.5" width="2.8" height="17.0" fill="#f23645"/>
<rect x="486" y="360.3" width="1" height="44.4" fill="#f23645"/>
<rect x="485.03" y="366.7" width="2.8" height="33.1" fill="#f23645"/>
<rect x="490" y="396.3" width="1" height="14.5" fill="#f23645"/>
<rect x="488.88" y="399.2" width="2.8" height="7.5" fill="#f23645"/>
<rect x="494" y="383.3" width="1" height="24.5" fill="#089981"/>
<rect x="492.74" y="387.0" width="2.8" height="20.0" fill="#089981"/>
<rect x="497" y="380.0" width="1" height="10.8" fill="#089981"/>
<rect x="496.59" y="385.8" width="2.8" height="3.4" fill="#089981"/>
<rect x="501" y="379.7" width="1" height="8.3" fill="#089981"/>
<rect x="500.45" y="380.0" width="2.8" height="6.7" fill="#089981"/>
<rect x="505" y="356.3" width="1" height="26.2" fill="#089981"/>
<rect x="504.30" y="356.7" width="2.8" height="23.3" fill="#089981"/>
<rect x="509" y="355.8" width="1" height="11.7" fill="#f23645"/>
<rect x="508.16" y="356.7" width="2.8" height="10.3" fill="#f23645"/>
<rect x="513" y="360.0" width="1" height="19.7" fill="#089981"/>
<rect x="512.02" y="363.0" width="2.8" height="4.5" fill="#089981"/>
<rect x="517" y="360.3" width="1" height="5.5" fill="#089981"/>
<rect x="515.87" y="362.5" width="2.8" height="1.0" fill="#089981"/>
<rect x="521" y="347.0" width="1" height="22.2" fill="#089981"/>
<rect x="519.73" y="355.8" width="2.8" height="7.5" fill="#089981"/>
<rect x="524" y="354.7" width="1" height="13.6" fill="#f23645"/>
<rect x="523.58" y="355.8" width="2.8" height="10.9" fill="#f23645"/>
<rect x="528" y="363.7" width="1" height="8.3" fill="#f23645"/>
<rect x="527.44" y="365.8" width="2.8" height="2.2" fill="#f23645"/>
<rect x="532" y="364.7" width="1" height="8.3" fill="#f23645"/>
<rect x="531.29" y="367.0" width="2.8" height="2.7" fill="#f23645"/>
<rect x="536" y="366.7" width="1" height="10.0" fill="#f23645"/>
<rect x="535.15" y="368.8" width="2.8" height="5.4" fill="#f23645"/>
<rect x="540" y="370.0" width="1" height="7.0" fill="#089981"/>
<rect x="539.00" y="372.5" width="2.8" height="1.2" fill="#089981"/>
<rect x="544" y="370.0" width="1" height="7.0" fill="#f23645"/>
<rect x="542.86" y="372.5" width="2.8" height="4.2" fill="#f23645"/>
<rect x="548" y="370.0" width="1" height="7.0" fill="#089981"/>
<rect x="546.71" y="371.7" width="2.8" height="5.0" fill="#089981"/>
<rect x="551" y="370.8" width="1" height="17.2" fill="#f23645"/>
<rect x="550.57" y="372.0" width="2.8" height="8.0" fill="#f23645"/>
<rect x="555" y="262.5" width="1" height="130.5" fill="#089981"/>
<rect x="554.43" y="270.3" width="2.8" height="109.7" fill="#089981"/>
<rect x="559" y="267.7" width="1" height="43.1" fill="#f23645"/>
<rect x="558.28" y="270.3" width="2.8" height="30.5" fill="#f23645"/>
<rect x="563" y="279.0" width="1" height="28.8" fill="#089981"/>
<rect x="562.14" y="283.0" width="2.8" height="17.8" fill="#089981"/>
<rect x="567" y="270.8" width="1" height="67.9" fill="#f23645"/>
<rect x="565.99" y="283.0" width="2.8" height="55.2" fill="#f23645"/>
<rect x="571" y="327.5" width="1" height="26.5" fill="#089981"/>
<rect x="569.85" y="335.0" width="2.8" height="3.0" fill="#089981"/>
<rect x="575" y="334.2" width="1" height="44.5" fill="#f23645"/>
<rect x="573.70" y="335.0" width="2.8" height="25.8" fill="#f23645"/>
<rect x="578" y="354.0" width="1" height="44.8" fill="#f23645"/>
<rect x="577.56" y="360.0" width="2.8" height="21.7" fill="#f23645"/>
<rect x="582" y="365.8" width="1" height="20.0" fill="#089981"/>
<rect x="581.41" y="379.2" width="2.8" height="2.5" fill="#089981"/>
<rect x="586" y="377.5" width="1" height="36.2" fill="#f23645"/>
<rect x="585.27" y="378.7" width="2.8" height="13.0" fill="#f23645"/>
<rect x="590" y="383.0" width="1" height="15.3" fill="#089981"/>
<rect x="589.13" y="388.0" width="2.8" height="3.3" fill="#089981"/>
<rect x="594" y="387.5" width="1" height="35.8" fill="#f23645"/>
<rect x="592.98" y="387.5" width="2.8" height="30.5" fill="#f23645"/>
<rect x="598" y="370.3" width="1" height="51.4" fill="#089981"/>
<rect x="596.84" y="382.2" width="2.8" height="35.6" fill="#089981"/>
<rect x="602" y="380.0" width="1" height="18.8" fill="#f23645"/>
<rect x="600.69" y="382.2" width="2.8" height="13.6" fill="#f23645"/>
<rect x="605" y="371.3" width="1" height="33.7" fill="#089981"/>
<rect x="604.55" y="377.0" width="2.8" height="18.8" fill="#089981"/>
<rect x="609" y="360.3" width="1" height="38.5" fill="#089981"/>
<rect x="608.40" y="370.0" width="2.8" height="7.8" fill="#089981"/>
<rect x="613" y="336.2" width="1" height="48.5" fill="#089981"/>
<rect x="612.26" y="347.1" width="2.8" height="22.9" fill="#089981"/>
<rect x="617" y="337.9" width="1" height="25.1" fill="#089981"/>
<rect x="616.11" y="340.0" width="2.8" height="8.0" fill="#089981"/>
<rect x="621" y="340.0" width="1" height="21.7" fill="#f23645"/>
<rect x="619.97" y="340.8" width="2.8" height="7.9" fill="#f23645"/>
<rect x="625" y="327.5" width="1" height="27.9" fill="#089981"/>
<rect x="623.82" y="330.8" width="2.8" height="16.7" fill="#089981"/>
<rect x="629" y="317.0" width="1" height="27.0" fill="#f23645"/>
<rect x="627.68" y="330.8" width="2.8" height="5.0" fill="#f23645"/>
<rect x="632" y="330.8" width="1" height="15.0" fill="#f23645"/>
<rect x="631.54" y="335.0" width="2.8" height="2.0" fill="#f23645"/>
<rect x="636" y="303.3" width="1" height="42.5" fill="#089981"/>
<rect x="635.39" y="303.3" width="2.8" height="33.4" fill="#089981"/>
<rect x="640" y="301.7" width="1" height="33.0" fill="#f23645"/>
<rect x="639.25" y="303.0" width="2.8" height="29.0" fill="#f23645"/>
<rect x="644" y="322.0" width="1" height="19.7" fill="#f23645"/>
<rect x="643.10" y="331.3" width="2.8" height="4.5" fill="#f23645"/>
<rect x="648" y="333.0" width="1" height="23.7" fill="#f23645"/>
<rect x="646.96" y="335.0" width="2.8" height="21.0" fill="#f23645"/>
<rect x="652" y="352.4" width="1" height="18.9" fill="#f23645"/>
<rect x="650.81" y="355.0" width="2.8" height="5.0" fill="#f23645"/>
<rect x="656" y="345.2" width="1" height="20.4" fill="#089981"/>
<rect x="654.67" y="354.2" width="2.8" height="6.1" fill="#089981"/>
<rect x="659" y="346.2" width="1" height="13.8" fill="#f23645"/>
<rect x="658.52" y="354.7" width="2.8" height="1.1" fill="#f23645"/>
<rect x="663" y="338.2" width="1" height="19.6" fill="#089981"/>
<rect x="662.38" y="340.8" width="2.8" height="15.9" fill="#089981"/>
<rect x="667" y="339.5" width="1" height="30.3" fill="#f23645"/>
<rect x="666.24" y="340.8" width="2.8" height="19.2" fill="#f23645"/>
<rect x="671" y="338.3" width="1" height="25.0" fill="#089981"/>
<rect x="670.09" y="344.0" width="2.8" height="16.0" fill="#089981"/>
<rect x="675" y="319.0" width="1" height="26.8" fill="#089981"/>
<rect x="673.95" y="324.2" width="2.8" height="20.0" fill="#089981"/>
<rect x="679" y="303.3" width="1" height="21.2" fill="#089981"/>
<rect x="677.80" y="312.0" width="2.8" height="11.7" fill="#089981"/>
<rect x="683" y="308.0" width="1" height="30.0" fill="#f23645"/>
<rect x="681.66" y="312.0" width="2.8" height="25.5" fill="#f23645"/>
<rect x="686" y="330.0" width="1" height="20.3" fill="#f23645"/>
<rect x="685.51" y="337.0" width="2.8" height="7.8" fill="#f23645"/>
<rect x="690" y="337.5" width="1" height="14.2" fill="#f23645"/>
<rect x="689.37" y="344.0" width="2.8" height="1.0" fill="#f23645"/>
<rect x="694" y="341.3" width="1" height="11.2" fill="#f23645"/>
<rect x="693.22" y="345.8" width="2.8" height="5.0" fill="#f23645"/>
<rect x="698" y="345.8" width="1" height="12.0" fill="#f23645"/>
<rect x="697.08" y="350.2" width="2.8" height="1.0" fill="#f23645"/>
<rect x="702" y="342.0" width="1" height="11.0" fill="#089981"/>
<rect x="700.93" y="346.8" width="2.8" height="5.2" fill="#089981"/>
<rect x="706" y="345.8" width="1" height="10.9" fill="#f23645"/>
<rect x="704.79" y="346.8" width="2.8" height="6.2" fill="#f23645"/>
<rect x="710" y="343.3" width="1" height="9.5" fill="#089981"/>
<rect x="708.65" y="344.2" width="2.8" height="8.6" fill="#089981"/>
<rect x="713" y="328.0" width="1" height="19.5" fill="#089981"/>
<rect x="712.50" y="332.0" width="2.8" height="13.0" fill="#089981"/>
<rect x="717" y="316.2" width="1" height="18.5" fill="#089981"/>
<rect x="716.36" y="326.2" width="2.8" height="6.6" fill="#089981"/>
<rect x="721" y="318.0" width="1" height="10.0" fill="#089981"/>
<rect x="720.21" y="320.8" width="2.8" height="6.7" fill="#089981"/>
<rect x="725" y="318.3" width="1" height="11.4" fill="#f23645"/>
<rect x="724.07" y="321.2" width="2.8" height="4.6" fill="#f23645"/>
<rect x="729" y="306.2" width="1" height="21.3" fill="#089981"/>
<rect x="727.92" y="315.0" width="2.8" height="11.0" fill="#089981"/>
<rect x="733" y="300.8" width="1" height="17.5" fill="#089981"/>
<rect x="731.78" y="314.2" width="2.8" height="1.6" fill="#089981"/>
<rect x="737" y="311.2" width="1" height="12.1" fill="#f23645"/>
<rect x="735.63" y="315.0" width="2.8" height="6.7" fill="#f23645"/>
<rect x="740" y="317.2" width="1" height="25.3" fill="#f23645"/>
<rect x="739.49" y="321.5" width="2.8" height="18.5" fill="#f23645"/>
<rect x="744" y="330.0" width="1" height="11.7" fill="#089981"/>
<rect x="743.35" y="336.2" width="2.8" height="3.8" fill="#089981"/>
<rect x="748" y="327.8" width="1" height="12.2" fill="#089981"/>
<rect x="747.20" y="330.8" width="2.8" height="5.0" fill="#089981"/>
<rect x="752" y="312.5" width="1" height="22.5" fill="#089981"/>
<rect x="751.06" y="320.0" width="2.8" height="14.5" fill="#089981"/>
<rect x="756" y="315.0" width="1" height="22.5" fill="#f23645"/>
<rect x="754.91" y="320.3" width="2.8" height="16.7" fill="#f23645"/>
<rect x="760" y="330.8" width="1" height="7.9" fill="#089981"/>
<rect x="758.77" y="334.5" width="2.8" height="2.5" fill="#089981"/>
<rect x="764" y="307.0" width="1" height="35.5" fill="#089981"/>
<rect x="762.62" y="321.3" width="2.8" height="13.4" fill="#089981"/>
<rect x="767" y="319.2" width="1" height="19.1" fill="#f23645"/>
<rect x="766.48" y="321.7" width="2.8" height="9.1" fill="#f23645"/>
<rect x="771" y="323.3" width="1" height="11.4" fill="#f23645"/>
<rect x="770.33" y="330.8" width="2.8" height="1.7" fill="#f23645"/>
<rect x="775" y="315.3" width="1" height="18.5" fill="#089981"/>
<rect x="774.19" y="320.0" width="2.8" height="13.3" fill="#089981"/>
<rect x="779" y="305.3" width="1" height="16.0" fill="#f23645"/>
<rect x="778.04" y="319.2" width="2.8" height="2.1" fill="#f23645"/>
<rect x="783" y="286.3" width="1" height="35.0" fill="#089981"/>
<rect x="781.90" y="295.8" width="2.8" height="25.4" fill="#089981"/>
<rect x="787" y="291.2" width="1" height="29.6" fill="#f23645"/>
<rect x="785.76" y="295.8" width="2.8" height="20.9" fill="#f23645"/>
<rect x="791" y="314.2" width="1" height="17.1" fill="#f23645"/>
<rect x="789.61" y="315.8" width="2.8" height="8.9" fill="#f23645"/>
<rect x="794" y="314.2" width="1" height="10.8" fill="#089981"/>
<rect x="793.47" y="322.5" width="2.8" height="2.0" fill="#089981"/>
<rect x="798" y="313.3" width="1" height="14.7" fill="#089981"/>
<rect x="797.32" y="319.2" width="2.8" height="3.8" fill="#089981"/>
<rect x="802" y="308.3" width="1" height="19.7" fill="#089981"/>
<rect x="801.18" y="317.0" width="2.8" height="3.0" fill="#089981"/>
<rect x="806" y="310.8" width="1" height="13.7" fill="#089981"/>
<rect x="805.03" y="316.9" width="2.8" height="1.0" fill="#089981"/>
<rect x="810" y="315.3" width="1" height="21.4" fill="#f23645"/>
<rect x="808.89" y="317.0" width="2.8" height="17.2" fill="#f23645"/>
<rect x="814" y="332.5" width="1" height="24.2" fill="#f23645"/>
<rect x="812.74" y="332.8" width="2.8" height="11.9" fill="#f23645"/>
<rect x="817" y="330.0" width="1" height="15.8" fill="#089981"/>
<rect x="816.60" y="336.0" width="2.8" height="8.2" fill="#089981"/>
<rect x="821" y="334.2" width="1" height="15.8" fill="#f23645"/>
<rect x="820.46" y="336.0" width="2.8" height="12.0" fill="#f23645"/>
<rect x="825" y="340.0" width="1" height="22.8" fill="#089981"/>
<rect x="824.31" y="342.0" width="2.8" height="5.0" fill="#089981"/>
<rect x="829" y="341.0" width="1" height="15.7" fill="#f23645"/>
<rect x="828.17" y="342.0" width="2.8" height="8.8" fill="#f23645"/>
<rect x="833" y="322.0" width="1" height="31.8" fill="#089981"/>
<rect x="832.02" y="328.3" width="2.8" height="22.5" fill="#089981"/>
<rect x="837" y="319.0" width="1" height="12.5" fill="#089981"/>
<rect x="835.88" y="325.0" width="2.8" height="3.7" fill="#089981"/>
<rect x="841" y="318.2" width="1" height="16.0" fill="#089981"/>
<rect x="839.73" y="323.5" width="2.8" height="1.5" fill="#089981"/>
<rect x="844" y="305.0" width="1" height="20.0" fill="#089981"/>
<rect x="843.59" y="311.0" width="2.8" height="13.8" fill="#089981"/>
<rect x="848" y="308.0" width="1" height="13.3" fill="#089981"/>
<rect x="847.44" y="310.0" width="2.8" height="2.0" fill="#089981"/>
<rect x="852" y="308.0" width="1" height="15.7" fill="#f23645"/>
<rect x="851.30" y="310.0" width="2.8" height="8.7" fill="#f23645"/>
<rect x="856" y="311.7" width="1" height="9.1" fill="#089981"/>
<rect x="855.15" y="317.0" width="2.8" height="2.7" fill="#089981"/>
<rect x="860" y="310.8" width="1" height="10.0" fill="#089981"/>
<rect x="859.01" y="314.2" width="2.8" height="3.8" fill="#089981"/>
<rect x="864" y="312.8" width="1" height="8.0" fill="#f23645"/>
<rect x="862.87" y="314.2" width="2.8" height="3.8" fill="#f23645"/>
<rect x="868" y="300.0" width="1" height="23.7" fill="#089981"/>
<rect x="866.72" y="302.0" width="2.8" height="16.0" fill="#089981"/>
<rect x="871" y="298.0" width="1" height="9.8" fill="#089981"/>
<rect x="870.58" y="301.7" width="2.8" height="1.3" fill="#089981"/>
<rect x="875" y="269.2" width="1" height="34.6" fill="#089981"/>
<rect x="874.43" y="288.7" width="2.8" height="13.8" fill="#089981"/>
<rect x="879" y="278.0" width="1" height="13.3" fill="#089981"/>
<rect x="878.29" y="287.2" width="2.8" height="2.5" fill="#089981"/>
<rect x="883" y="279.2" width="1" height="19.5" fill="#089981"/>
<rect x="882.14" y="284.2" width="2.8" height="3.3" fill="#089981"/>
<rect x="887" y="261.7" width="1" height="30.8" fill="#089981"/>
<rect x="886.00" y="264.2" width="2.8" height="20.5" fill="#089981"/>
<rect x="891" y="256.3" width="1" height="29.5" fill="#f23645"/>
<rect x="889.85" y="264.2" width="2.8" height="13.3" fill="#f23645"/>
<rect x="895" y="272.5" width="1" height="23.0" fill="#f23645"/>
<rect x="893.71" y="277.0" width="2.8" height="8.3" fill="#f23645"/>
<rect x="898" y="263.3" width="1" height="22.5" fill="#089981"/>
<rect x="897.57" y="270.0" width="2.8" height="15.8" fill="#089981"/>
</g>
<line x1="9" x2="1138" y1="270.5" y2="270.5" stroke="#089981" stroke-width="1" stroke-dasharray="1 1.5"/>
<rect x="8.3" y="7.6" width="1183.3" height="595.4" fill="none" stroke="#e3e6ee" stroke-width="1"/>
<line x1="8.5" x2="1191.5" y1="582.3" y2="582.3" stroke="#e0e3eb" stroke-width="1"/>
<g font-size="10" fill="#131722" stroke="#131722" stroke-width="0.2">
<text x="1144.3" y="20.10" textLength="25.8" lengthAdjust="spacingAndGlyphs">2.000</text>
<text x="1144.3" y="54.10" textLength="25.8" lengthAdjust="spacingAndGlyphs">1.900</text>
<text x="1144.3" y="89.10" textLength="25.8" lengthAdjust="spacingAndGlyphs">1.800</text>
<text x="1144.3" y="123.10" textLength="25.8" lengthAdjust="spacingAndGlyphs">1.700</text>
<text x="1144.3" y="158.10" textLength="25.8" lengthAdjust="spacingAndGlyphs">1.600</text>
<text x="1144.3" y="192.10" textLength="25.8" lengthAdjust="spacingAndGlyphs">1.500</text>
<text x="1144.3" y="226.10" textLength="25.8" lengthAdjust="spacingAndGlyphs">1.400</text>
<text x="1144.3" y="260.10" textLength="25.8" lengthAdjust="spacingAndGlyphs">1.300</text>
<text x="1144.3" y="330.10" textLength="25.8" lengthAdjust="spacingAndGlyphs">1.100</text>
<text x="1144.3" y="399.10" textLength="25.8" lengthAdjust="spacingAndGlyphs">0.900</text>
<text x="1144.3" y="434.10" textLength="25.8" lengthAdjust="spacingAndGlyphs">0.800</text>
<text x="1144.3" y="468.10" textLength="25.8" lengthAdjust="spacingAndGlyphs">0.700</text>
<text x="1144.3" y="502.10" textLength="25.8" lengthAdjust="spacingAndGlyphs">0.600</text>
<text x="1144.3" y="537.10" textLength="25.8" lengthAdjust="spacingAndGlyphs">0.500</text>
</g>
<path d="M1138 173 H1172.2 Q1174.2 173 1174.2 175 V184 Q1174.2 186 1172.2 186 H1138 Z" fill="#ffa726"/>
<text x="1144.1" y="183.00" font-size="10" fill="#000" textLength="25.6" lengthAdjust="spacingAndGlyphs">1.526</text>
<path d="M1138 356.7 H1172.2 Q1174.2 356.7 1174.2 358.7 V367.7 Q1174.2 369.7 1172.2 369.7 H1138 Z" fill="#ffa726"/>
<text x="1144.1" y="366.70" font-size="10" fill="#000" textLength="25.6" lengthAdjust="spacingAndGlyphs">0.994</text>
<path d="M1138 415.6 H1172.2 Q1174.2 415.6 1174.2 417.6 V426.6 Q1174.2 428.6 1172.2 428.6 H1138 Z" fill="#ffa726"/>
<text x="1144.1" y="425.60" font-size="10" fill="#000" textLength="25.6" lengthAdjust="spacingAndGlyphs">0.822</text>
<path d="M1138 264.1 H1172.2 Q1174.2 264.1 1174.2 266.1 V285.90000000000003 Q1174.2 287.90000000000003 1172.2 287.90000000000003 H1138 Z" fill="#089981"/>
<path d="M1138 287.9 H1172.2 Q1174.2 287.9 1174.2 289.9 V298.9 Q1174.2 300.9 1172.2 300.9 H1138 Z" fill="#ffa726"/>
<text x="1144.1" y="297.90" font-size="10" fill="#000" textLength="25.6" lengthAdjust="spacingAndGlyphs">1.218</text>
<text x="1144.3" y="273.8" font-size="10" font-weight="bold" fill="#fff" textLength="25.4" lengthAdjust="spacingAndGlyphs">1.263</text>
<text x="1144.6" y="284.9" font-size="10" font-weight="bold" fill="#fff" fill-opacity="0.8" textLength="24.8" lengthAdjust="spacingAndGlyphs">07:51</text>
<path d="M1138 561.1 H1186.2 Q1188.2 561.1 1188.2 563.1 V571.9 Q1188.2 573.9 1186.2 573.9 H1138 Z" fill="#22a793"/>
<text x="1144.4" y="571.1" font-size="10" font-weight="bold" fill="#fff" textLength="39.2" lengthAdjust="spacingAndGlyphs">28.646 M</text>
<g font-size="10" fill="#131722" stroke="#131722" stroke-width="0.15" text-anchor="middle" clip-path="url(#cp2)">
<text x="12.5" y="596.1">10</text>
<text x="81.5" y="596.1">13</text>
<text x="150.5" y="596.1">16</text>
<text x="220.5" y="596.1">19</text>
<text x="290.5" y="596.1">22</text>
<text x="359.5" y="596.1">25</text>
<text x="428.5" y="596.1">28</text>
<text x="520.5" y="596.1" font-weight="bold">Nov</text>
<text x="590.5" y="596.1">4</text>
<text x="659.5" y="596.1">7</text>
<text x="729.5" y="596.1">10</text>
<text x="798.5" y="596.1">13</text>
<text x="867.5" y="596.1">16</text>
<text x="937.5" y="596.1">19</text>
<text x="1006.5" y="596.1">22</text>
<text x="1076.5" y="596.1">25</text>
</g>
<g font-size="18.7" fill="#0c0c0c" stroke="#0c0c0c" stroke-width="0.2" opacity="0.99">
<text x="925.2" y="174.3" textLength="38.2" lengthAdjust="spacingAndGlyphs">1.50</text>
<text x="929.4" y="278.4" textLength="38.2" lengthAdjust="spacingAndGlyphs">1.20</text>
<text x="934" y="356.8" textLength="37.8" lengthAdjust="spacingAndGlyphs">1.00</text>
<text x="940.6" y="414.5" textLength="38" lengthAdjust="spacingAndGlyphs">0.82</text>
</g>
<text x="14.70" y="22.0" font-size="10" fill="#131722" stroke="#131722" stroke-width="0.2" textLength="28.40" lengthAdjust="spacingAndGlyphs">ASTER</text>
<text x="46.80" y="22.0" font-size="10" fill="#131722" stroke="#131722" stroke-width="0.2" textLength="4.00" lengthAdjust="spacingAndGlyphs">/</text>
<text x="53.80" y="22.0" font-size="10" fill="#131722" stroke="#131722" stroke-width="0.2" textLength="25.00" lengthAdjust="spacingAndGlyphs">USDT,</text>
<text x="82.50" y="22.0" font-size="10" fill="#131722" stroke="#131722" stroke-width="0.2" textLength="13.80" lengthAdjust="spacingAndGlyphs">4h,</text>
<text x="100.50" y="22.0" font-size="10" fill="#131722" stroke="#131722" stroke-width="0.2" textLength="50.80" lengthAdjust="spacingAndGlyphs">ASTERUSDT</text>
<text x="157.70" y="22.0" font-size="10" fill="#131722" stroke="#131722" stroke-width="0.2" textLength="7.10" lengthAdjust="spacingAndGlyphs">O</text>
<text x="165.30" y="22.0" font-size="10" fill="#129e88" stroke="#129e88" stroke-width="0.2" textLength="24.20" lengthAdjust="spacingAndGlyphs">1.219</text>
<text x="195.30" y="22.0" font-size="10" fill="#131722" stroke="#131722" stroke-width="0.2" textLength="7.20" lengthAdjust="spacingAndGlyphs">H</text>
<text x="202.80" y="22.0" font-size="10" fill="#129e88" stroke="#129e88" stroke-width="0.2" textLength="24.20" lengthAdjust="spacingAndGlyphs">1.283</text>
<text x="232.50" y="22.0" font-size="10" fill="#131722" stroke="#131722" stroke-width="0.2" textLength="5.80" lengthAdjust="spacingAndGlyphs">L</text>
<text x="238.80" y="22.0" font-size="10" fill="#129e88" stroke="#129e88" stroke-width="0.2" textLength="24.50" lengthAdjust="spacingAndGlyphs">1.218</text>
<text x="268.70" y="22.0" font-size="10" fill="#131722" stroke="#131722" stroke-width="0.2" textLength="6.80" lengthAdjust="spacingAndGlyphs">C</text>
<text x="275.80" y="22.0" font-size="10" fill="#129e88" stroke="#129e88" stroke-width="0.2" textLength="24.00" lengthAdjust="spacingAndGlyphs">1.263</text>
<text x="305.70" y="22.0" font-size="10" fill="#129e88" stroke="#129e88" stroke-width="0.2" textLength="30.60" lengthAdjust="spacingAndGlyphs">+0.043</text>
<text x="339.00" y="22.0" font-size="10" fill="#129e88" stroke="#129e88" stroke-width="0.2" textLength="38.70" lengthAdjust="spacingAndGlyphs">(+3.52%)</text>
<text x="14.75" y="34.9" font-size="10" fill="#131722" stroke="#131722" stroke-width="0.2" textLength="33.75" lengthAdjust="spacingAndGlyphs">Volume</text>
<text x="53.95" y="34.9" font-size="10" fill="#129e88" stroke="#129e88" stroke-width="0.2" textLength="39.55" lengthAdjust="spacingAndGlyphs">28.646 M</text>
<rect x="45" y="542.5" width="198.5" height="60" fill="#fff" fill-opacity="0.62"/>
<rect x="45" y="541.8" width="198.5" height="1.7" fill="#fff"/>
<g stroke-width="8.0" stroke-linecap="butt" fill="none">
<path d="M89.2 570.7 L110.10 570.7 M89.2 570.7 L99.65 552.60 M89.2 570.7 L99.65 588.80" stroke="#6977f1"/>
<path d="M68.30 570.7 L89.2 570.7 M89.2 570.7 L78.75 552.60 M89.2 570.7 L78.75 588.80" stroke="#27d3c7"/>
</g>
<path d="M86.2 566.7 L91.51 566.7 L93.82 570.7 L91.51 574.7 L86.2 574.7 Z" fill="#27d3c7"/>
<defs><clipPath id="lt"><rect x="110" y="561.5" width="120" height="19"/></clipPath></defs>
<g stroke="#1b1748" stroke-width="2.2" fill="none" stroke-linejoin="bevel" stroke-linecap="butt" clip-path="url(#lt)">
<path d="M119.1 582 V563.6 H127.5 M119.1 571.5 H126.5" stroke-linejoin="miter"/>
<path d="M127.6 582 L135 562.9 L142.4 582 M130.2 575.3 H139.8"/>
<path d="M145.6 582 V563.6 H150.4 A3.95 3.95 0 0 1 150.4 571.5 H145.6 M150.6 571.5 L156.4 582" stroke-linejoin="miter"/>
<path d="M157.1 582 L164.3 562.9 L171.5 582 M159.6 575.3 H169"/>
<path d="M172.7 563.6 H184.3 L173.9 579.4 H185.6" stroke-linejoin="miter"/>
<path d="M194.75 561 V582"/>
</g>
<ellipse cx="206.5" cy="571.5" rx="7.4" ry="8.4" stroke="#1b1748" stroke-width="2.2" fill="none"/>
<circle cx="189.6" cy="579" r="1.55" fill="#1b1748"/>
<g fill="#1e222d">
<path d="M8.3 612.6 H16.2 V619.6 H12.2 V616.2 H8.3 Z"/>
<circle cx="18.5" cy="614" r="1.45"/>
<path d="M20.6 612.6 H24.7 L21.3 619.6 H17.2 Z"/>
<text x="28.3" y="619.5" font-size="9.9" stroke="#1e222d" stroke-width="0.25" textLength="58.2" lengthAdjust="spacingAndGlyphs">TradingView</text>
</g>
</svg></body></html>
